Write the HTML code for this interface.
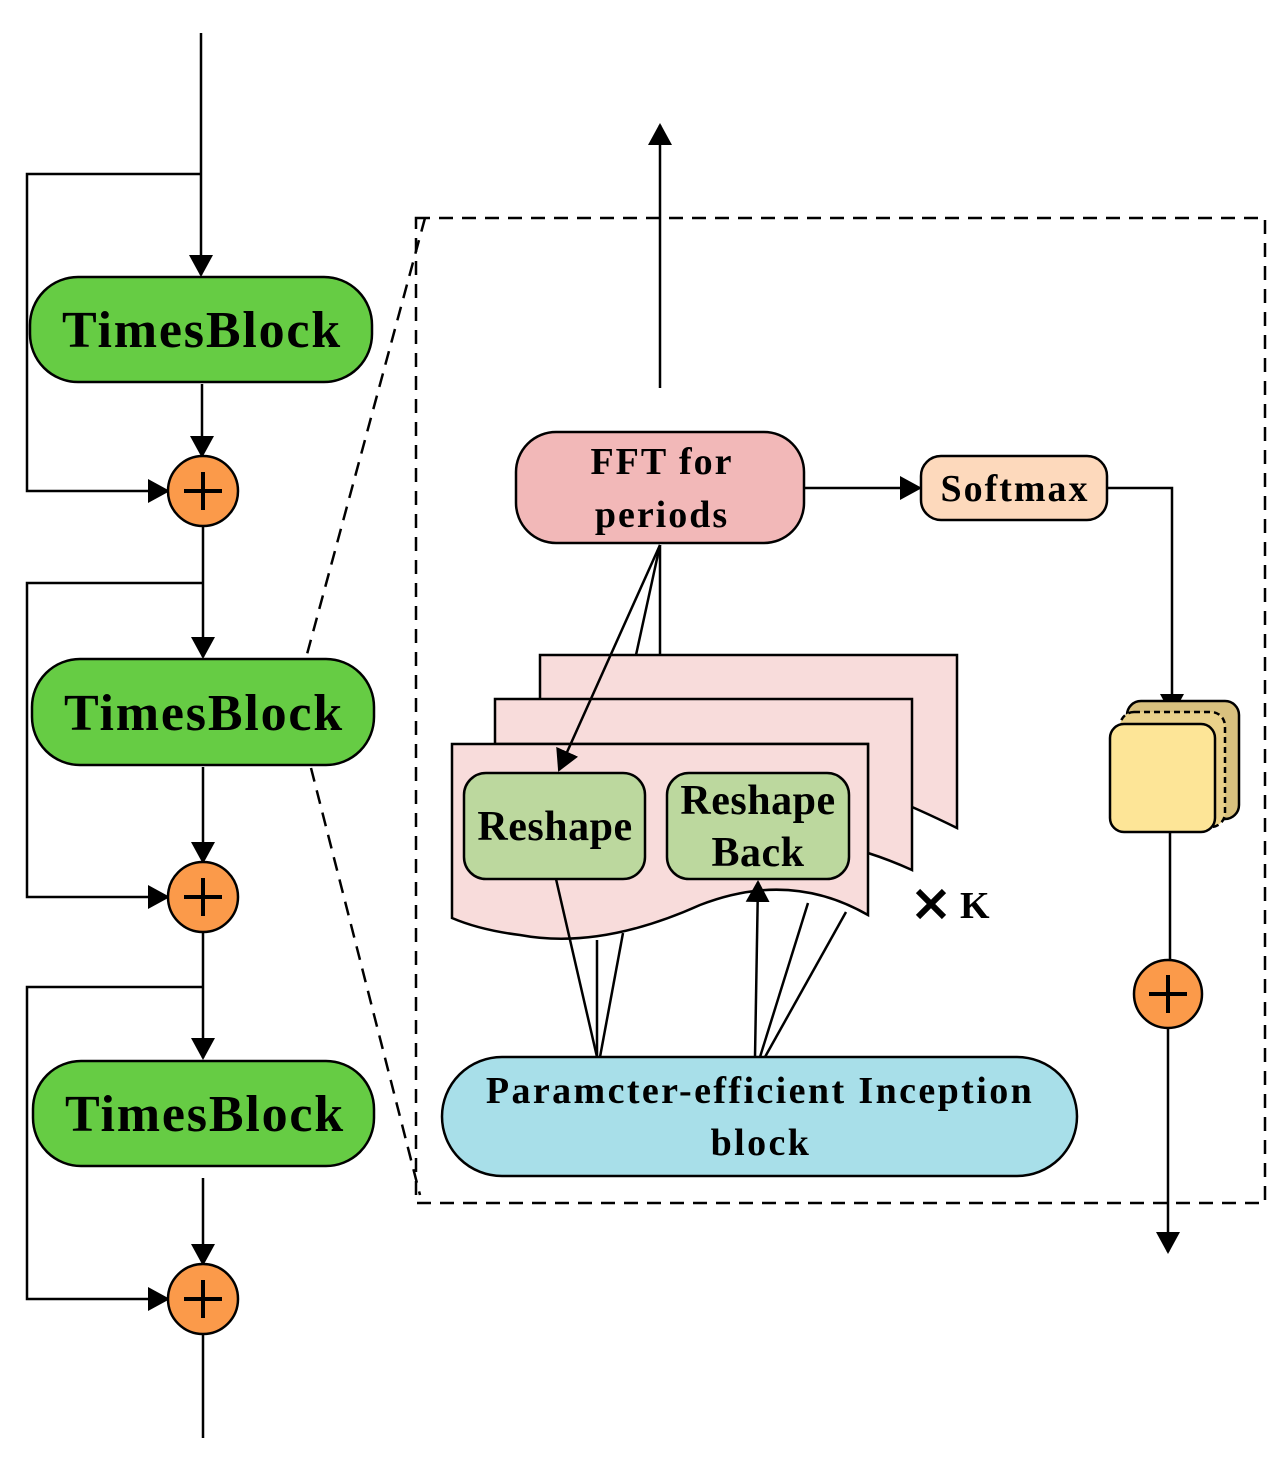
<!DOCTYPE html>
<html><head><style>body{margin:0;background:#fff}svg{display:block}text{font-family:"Liberation Serif",serif;font-weight:bold;fill:#000}</style></head><body>
<svg width="1283" height="1461" viewBox="0 0 1283 1461" xmlns="http://www.w3.org/2000/svg">
<defs><marker id="b" markerWidth="22" markerHeight="24" refX="20" refY="12" orient="auto" markerUnits="userSpaceOnUse" viewBox="0 0 22 24"><path d="M0,0L22,12L0,24z" fill="#000"/></marker></defs>
<g stroke="#000" stroke-width="2.5" fill="none">
<line x1="201" y1="33" x2="201" y2="275" marker-end="url(#b)"/>
<polyline points="201,174 27,174 27,491 168,491" marker-end="url(#b)"/>
<line x1="202" y1="384" x2="202" y2="456" marker-end="url(#b)"/>
<line x1="203" y1="527" x2="203" y2="657" marker-end="url(#b)"/>
<polyline points="203,583 27,583 27,897 168,897" marker-end="url(#b)"/>
<line x1="203" y1="767" x2="203" y2="862" marker-end="url(#b)"/>
<line x1="203" y1="932" x2="203" y2="1058" marker-end="url(#b)"/>
<polyline points="203,987 27,987 27,1299 168,1299" marker-end="url(#b)"/>
<line x1="203" y1="1178" x2="203" y2="1264" marker-end="url(#b)"/>
<line x1="203" y1="1334" x2="203" y2="1438"/>
</g>
<g stroke="#000" stroke-width="2.5" fill="#66cc44">
<rect x="30" y="277" width="342" height="105" rx="48"/>
<rect x="32" y="659" width="342" height="106" rx="48"/>
<rect x="33" y="1061" width="341" height="105" rx="48"/>
</g>
<g font-size="52" text-anchor="middle" letter-spacing="1.8"><text x="202" y="347">TimesBlock</text><text x="204" y="730">TimesBlock</text><text x="205" y="1131">TimesBlock</text></g>
<g stroke="#000" stroke-width="2.5" fill="#fb9a4a">
<circle cx="203" cy="491" r="35"/><circle cx="203" cy="897" r="35"/><circle cx="203" cy="1299" r="35"/><circle cx="1168" cy="994" r="34"/>
</g>
<g stroke="#000" stroke-width="4">
<path d="M203,472V510M184,491H222M203,878V916M184,897H222M203,1280V1318M184,1299H222M1168,975V1013M1149,994H1187"/>
</g>
<g stroke="#000" stroke-width="2.5" fill="none" stroke-dasharray="14,9">
<rect x="416" y="218" width="849" height="985"/>
<line x1="425" y1="218" x2="306" y2="658"/><line x1="311" y1="768" x2="420" y2="1195"/>
</g>
<g stroke="#000" stroke-width="2.5" fill="none">
<line x1="660" y1="388" x2="660" y2="125" marker-end="url(#b)"/>
<line x1="804" y1="488" x2="920" y2="488" marker-end="url(#b)"/>
<polyline points="1107,488 1172,488 1172,714" marker-end="url(#b)"/>
<line x1="1170" y1="832" x2="1170" y2="960"/>
<line x1="1168" y1="1028" x2="1168" y2="1252" marker-end="url(#b)"/>
<line x1="660" y1="545" x2="636" y2="655"/><line x1="660" y1="545" x2="660" y2="655"/>
</g>
<rect x="516" y="432" width="288" height="111" rx="40" fill="#f2b8b8" stroke="#000" stroke-width="2.5"/>
<g font-size="38" text-anchor="middle" letter-spacing="2"><text x="662" y="474">FFT for</text><text x="662" y="527">periods</text></g>
<rect x="921" y="456" width="186" height="64" rx="20" fill="#fdd9bc" stroke="#000" stroke-width="2.5"/>
<text x="1015" y="501" font-size="38" text-anchor="middle" letter-spacing="2">Softmax</text>
<g stroke="#000" stroke-width="2.5" fill="#f8dcdb">
<path d="M540,655H957V828Q900,800 868,790V745H540Z"/>
<path d="M495,699H912V870Q890,860 868,853V744H495Z"/>
<path d="M452,744H868V915Q790,870 700,905Q600,950 520,935Q480,930 452,918Z"/>
</g>
<g stroke="#000" stroke-width="2.5" fill="#bcd89e">
<rect x="464" y="773" width="181" height="106" rx="22"/><rect x="667" y="773" width="182" height="106" rx="22"/>
</g>
<g font-size="42" text-anchor="middle" letter-spacing="0.5"><text x="555" y="840">Reshape</text><text x="758" y="814">Reshape</text><text x="758" y="866">Back</text></g>
<g stroke="#000" stroke-width="2.5" fill="none">
<line x1="660" y1="545" x2="559" y2="770" marker-end="url(#b)"/>
<line x1="556" y1="879" x2="597" y2="1057"/><line x1="597" y1="940" x2="597" y2="1057"/><line x1="623" y1="933" x2="600" y2="1057"/>
<line x1="755" y1="1057" x2="758" y2="882" marker-end="url(#b)"/>
<line x1="808" y1="903" x2="760" y2="1057"/><line x1="846" y1="912" x2="765" y2="1057"/>
</g>
<rect x="442" y="1057" width="635" height="119" rx="60" fill="#a8dfe9" stroke="#000" stroke-width="2.5"/>
<g font-size="38" text-anchor="middle" letter-spacing="2.4"><text x="760" y="1103">Paramcter-efficient Inception</text><text x="761" y="1155">block</text></g>
<path d="M918,891L944,917M944,891L918,917" stroke="#000" stroke-width="6"/>
<text x="960" y="918" font-size="38">K</text>
<g stroke="#000" stroke-width="2.5">
<rect x="1127" y="701" width="112" height="118" rx="14" fill="#d9c17e"/>
<rect x="1120" y="712" width="105" height="115" rx="14" fill="#ead18a" stroke-dasharray="6,4"/>
<rect x="1110" y="724" width="105" height="108" rx="14" fill="#fde597"/>
</g>
</svg>
</body></html>
